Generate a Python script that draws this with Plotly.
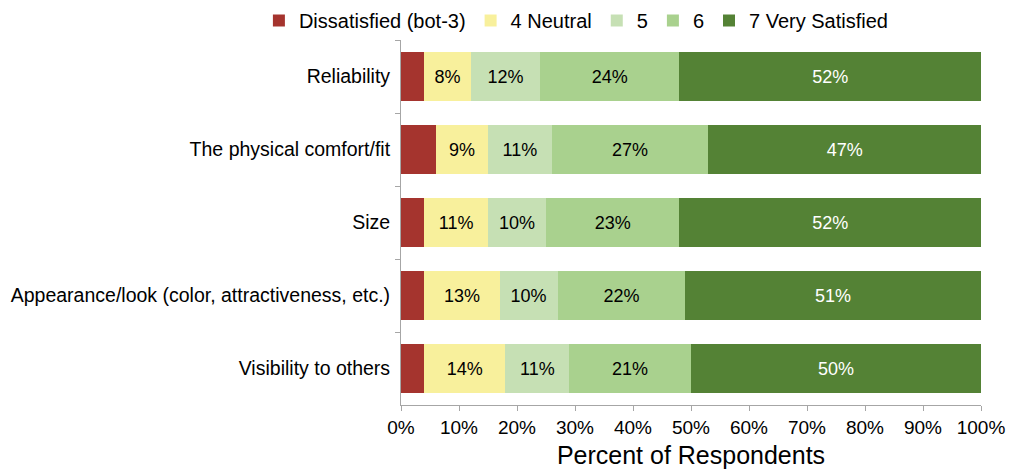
import plotly.graph_objects as go

categories = ["Reliability", "The physical comfort/fit", "Size",
              "Appearance/look (color, attractiveness, etc.)", "Visibility to others"]
series_names = ["Dissatisfied (bot-3)", "4 Neutral", "5", "6", "7 Very Satisfied"]
dissatisfied = [4, 6, 4, 4, 4]
neutral = [8, 9, 11, 13, 14]
five = [12, 11, 10, 10, 11]
six = [24, 27, 23, 22, 21]
very_satisfied = [52, 47, 52, 51, 50]
x_ticks = [0, 10, 20, 30, 40, 50, 60, 70, 80, 90, 100]
x_tick_labels = [f"{v}%" for v in x_ticks]

colors = ["#A5342E", "#F8F09C", "#C6E0B4", "#A9D18E", "#548235"]
text_colors = ["white", "black", "black", "black", "white"]
values = [dissatisfied, neutral, five, six, very_satisfied]

fig = go.Figure()
for i, (name, vals) in enumerate(zip(series_names, values)):
    fig.add_trace(go.Bar(
        y=categories, x=vals, name=name, orientation="h",
        marker=dict(color=colors[i], line=dict(width=0)),
        text=None if i == 0 else [f"{v}%" for v in vals],
        textposition="inside", insidetextanchor="middle",
        textfont=dict(color=text_colors[i], size=18, family="Liberation Sans, Arial"),
        hoverinfo="x+name",
    ))

fig.update_layout(
    barmode="stack", bargap=0.33,
    width=1015, height=472,
    margin=dict(l=401, r=34, t=40, b=67, autoexpand=False),
    plot_bgcolor="white", paper_bgcolor="white",
    font=dict(family="Liberation Sans, Arial", color="black"),
    legend=dict(orientation="h", x=-0.245, y=1.0, xanchor="left", yanchor="bottom",
                font=dict(size=20), traceorder="normal", itemwidth=30,
                bgcolor="rgba(0,0,0,0)"),
    xaxis=dict(range=[0, 100], tickvals=x_ticks, ticktext=x_tick_labels,
               showgrid=False, zeroline=False, showline=True, linecolor="#A6A6A6",
               ticks="outside", tickcolor="#A6A6A6", ticklen=5,
               tickfont=dict(size=19),
               title=dict(text="Percent of Respondents", font=dict(size=25), standoff=9)),
    yaxis=dict(autorange="reversed", showgrid=False, showline=True, linecolor="#A6A6A6",
               ticks="outside", tickcolor="#A6A6A6", ticklen=5, tickson="boundaries",
               tickfont=dict(size=19.5), ticklabelstandoff=6),
    uniformtext=dict(minsize=10),
)

fig.write_html("out.html")
